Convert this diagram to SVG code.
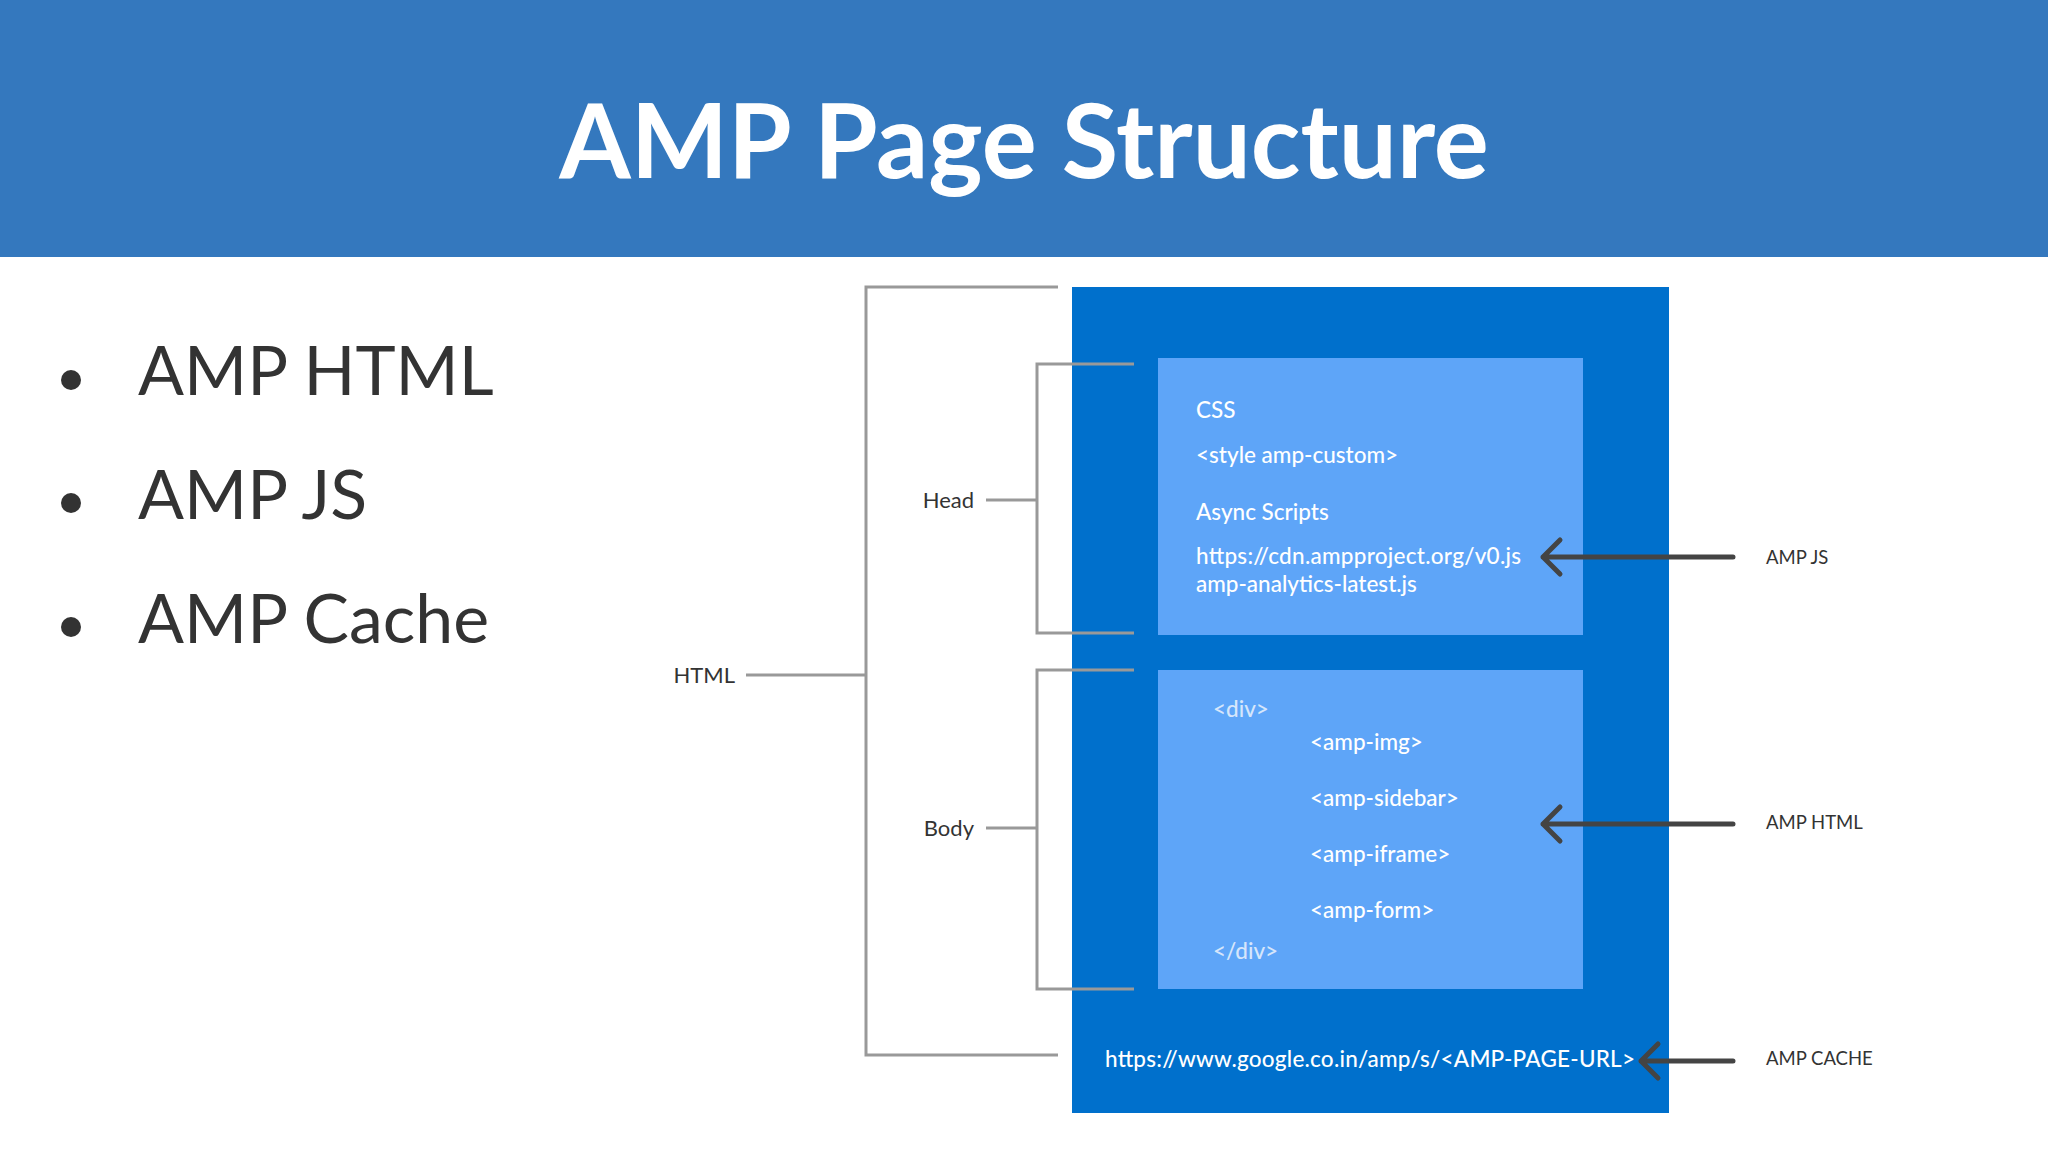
<svg xmlns="http://www.w3.org/2000/svg" width="2048" height="1152" viewBox="0 0 2048 1152">
<style>
.t{font-family:Lato,"Liberation Sans",sans-serif}
.w{fill:#fff;font-size:22.5px;font-weight:500}
.lab{fill:#333;font-size:22px}
.side{fill:#333;font-size:18.5px}
.bul{fill:#333;font-size:68px}
.br{fill:none;stroke:#999;stroke-width:3}
.ar{fill:none;stroke:#444;stroke-width:5;stroke-linecap:round;stroke-linejoin:round}
</style>
<rect width="2048" height="1152" fill="#fff"/>
<g id="header"><rect width="2048" height="257" fill="#3478BE"/>
<text class="t" x="1024" y="178" text-anchor="middle" fill="#fff" font-size="103" font-weight="bold">AMP Page Structure</text></g>
<g id="bullets">
<circle cx="71" cy="380" r="10" fill="#333"/><text class="t bul" x="138" y="395">AMP HTML</text>
<circle cx="71" cy="503" r="10" fill="#333"/><text class="t bul" x="138" y="519">AMP JS</text>
<circle cx="71" cy="627" r="10" fill="#333"/><text class="t bul" x="138" y="643">AMP Cache</text>
</g>
<g id="page"><rect x="1072" y="287" width="597" height="826" fill="#0070CC"/>
<text class="t w" x="1105" y="1067" textLength="530">https://www.google.co.in/amp/s/&lt;AMP-PAGE-URL&gt;</text></g>
<g id="head"><rect x="1158" y="358" width="425" height="277" fill="#5EA5F8"/>
<text class="t w" x="1196" y="418">CSS</text>
<text class="t w" x="1196" y="463">&lt;style amp-custom&gt;</text>
<text class="t w" x="1196" y="520">Async Scripts</text>
<text class="t w" x="1196" y="564" textLength="325">https://cdn.ampproject.org/v0.js</text>
<text class="t w" x="1196" y="592">amp-analytics-latest.js</text></g>
<g id="body"><rect x="1158" y="670" width="425" height="319" fill="#5EA5F8"/>
<text class="t w" x="1213" y="717" style="fill:#d6e6fb">&lt;div&gt;</text>
<text class="t w" x="1310" y="750">&lt;amp-img&gt;</text>
<text class="t w" x="1310" y="806">&lt;amp-sidebar&gt;</text>
<text class="t w" x="1310" y="862">&lt;amp-iframe&gt;</text>
<text class="t w" x="1310" y="918">&lt;amp-form&gt;</text>
<text class="t w" x="1213" y="959" style="fill:#d6e6fb">&lt;/div&gt;</text></g>
<g id="labels">
<text class="t lab" x="735" y="683" text-anchor="end">HTML</text>
<text class="t lab" x="974" y="508" text-anchor="end">Head</text>
<text class="t lab" x="974" y="836" text-anchor="end">Body</text>
<text class="t side" x="1766" y="564">AMP JS</text>
<text class="t side" x="1766" y="829">AMP HTML</text>
<text class="t side" x="1766" y="1065">AMP CACHE</text>
</g>
<g id="connectors">
<path class="br" d="M1058 287H866V1055H1058M866 675H746"/>
<path class="br" d="M1134 364H1037V633H1134M1037 500H986"/>
<path class="br" d="M1134 670H1037V989H1134M1037 828H986"/>
<path class="ar" d="M1733 557H1543M1560 540L1543 557L1560 574"/>
<path class="ar" d="M1733 824H1543M1560 807L1543 824L1560 841"/>
<path class="ar" d="M1733 1061H1641M1658 1044L1641 1061L1658 1078"/>
</g>
</svg>
